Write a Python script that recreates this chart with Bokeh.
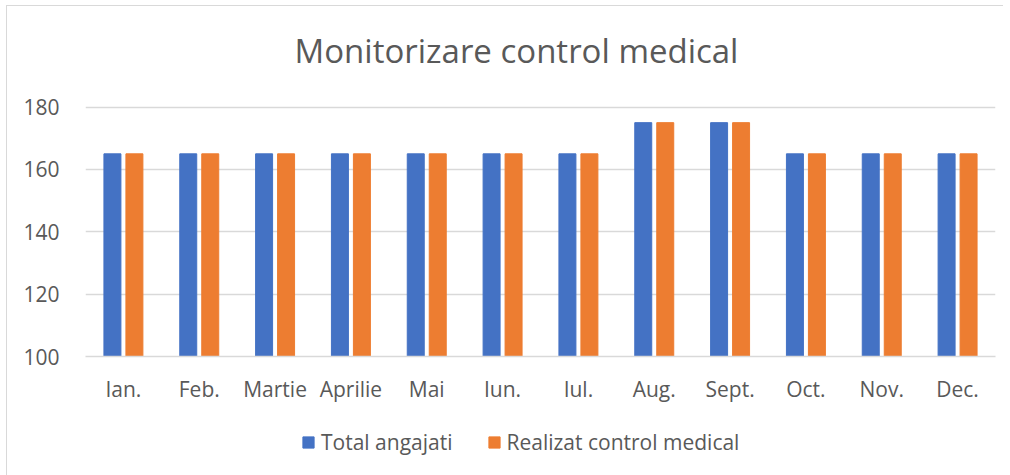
from bokeh.plotting import figure
from bokeh.layouts import column
from bokeh.models import ColumnDataSource, FactorRange, Range1d, Legend, LegendItem, FixedTicker, Label
from bokeh.transform import dodge
from bokeh.embed import file_html
from bokeh.resources import INLINE

chart_title = "Monitorizare control medical"
months = ["Ian.", "Feb.", "Martie", "Aprilie", "Mai", "Iun.", "Iul.", "Aug.", "Sept.", "Oct.", "Nov.", "Dec."]
total_angajati = [165, 165, 165, 165, 165, 165, 165, 175, 175, 165, 165, 165]
realizat_control = [165, 165, 165, 165, 165, 165, 165, 175, 175, 165, 165, 165]
series_names = ["Total angajati", "Realizat control medical"]
series_colors = ["#4472C4", "#ED7D31"]
y_ticks = [100, 120, 140, 160, 180]

FONT = "Open Sans"
TXT = "#595959"
GRID = "#d9d9d9"

# title strip
tf = figure(frame_width=996, frame_height=87, output_backend="svg", toolbar_location=None,
            min_border=0, x_axis_location=None, y_axis_location=None,
            x_range=Range1d(0, 996), y_range=Range1d(87, 0))
tf.outline_line_color = None
tf.grid.grid_line_color = None
tf.add_layout(Label(x=431, y=44, text=chart_title, text_align="center", text_baseline="alphabetic",
                    text_font=FONT, text_font_size="33px", text_color=TXT))

src = ColumnDataSource(dict(month=months, total=total_angajati, real=realizat_control))

p = figure(x_range=FactorRange(*months), y_range=Range1d(100, 180.5),
           frame_width=910, frame_height=251, output_backend="svg", toolbar_location=None,
           min_border_left=78, min_border_right=8, min_border_top=12, min_border_bottom=45)

p.vbar(x=dodge("month", -0.145, range=p.x_range), top="total", bottom=100, width=0.224,
       source=src, color=series_colors[0])
p.vbar(x=dodge("month", 0.145, range=p.x_range), top="real", bottom=100, width=0.224,
       source=src, color=series_colors[1])

p.outline_line_color = None
p.xgrid.grid_line_color = None
p.ygrid.grid_line_color = GRID
p.ygrid.grid_line_width = 1.5
p.yaxis.ticker = FixedTicker(ticks=y_ticks)

for ax in (p.xaxis[0], p.yaxis[0]):
    ax.major_tick_line_color = None
    ax.minor_tick_line_color = None
    ax.major_label_text_font = FONT
    ax.major_label_text_font_size = "21px"
    ax.major_label_text_color = TXT
p.yaxis.axis_line_color = None
p.xaxis.axis_line_color = GRID
p.xaxis.axis_line_width = 1.5
p.yaxis.major_label_standoff = 20
p.xaxis.major_label_standoff = 12
p.x_range.range_padding = 0
p.x_range.group_padding = 0

# legend strip below the chart
lg = figure(frame_width=996, frame_height=70, output_backend="svg", toolbar_location=None,
            min_border=0, x_axis_location=None, y_axis_location=None,
            x_range=Range1d(0, 1), y_range=Range1d(0, 1))
lg.outline_line_color = None
lg.grid.grid_line_color = None
nan = float("nan")
sw1 = lg.vbar(x=[nan], top=[nan], width=1, color=series_colors[0])
sw2 = lg.vbar(x=[nan], top=[nan], width=1, color=series_colors[1])
legend = Legend(items=[LegendItem(label=series_names[0], renderers=[sw1]),
                       LegendItem(label=series_names[1], renderers=[sw2])],
                orientation="horizontal", location=(294, 19),
                label_text_font=FONT, label_text_font_size="21px", label_text_color=TXT,
                glyph_width=14, glyph_height=14, spacing=34, label_standoff=6,
                border_line_color=None, background_fill_alpha=0, padding=0, margin=0)
lg.add_layout(legend, "center")

layout = column(tf, p, lg, spacing=0)
layout.styles = {"margin-left": "6px", "margin-top": "5px",
                 "border-left": "1px solid #d9d9d9", "border-top": "1px solid #d9d9d9"}

open("out.html", "w").write(file_html(layout, INLINE))
